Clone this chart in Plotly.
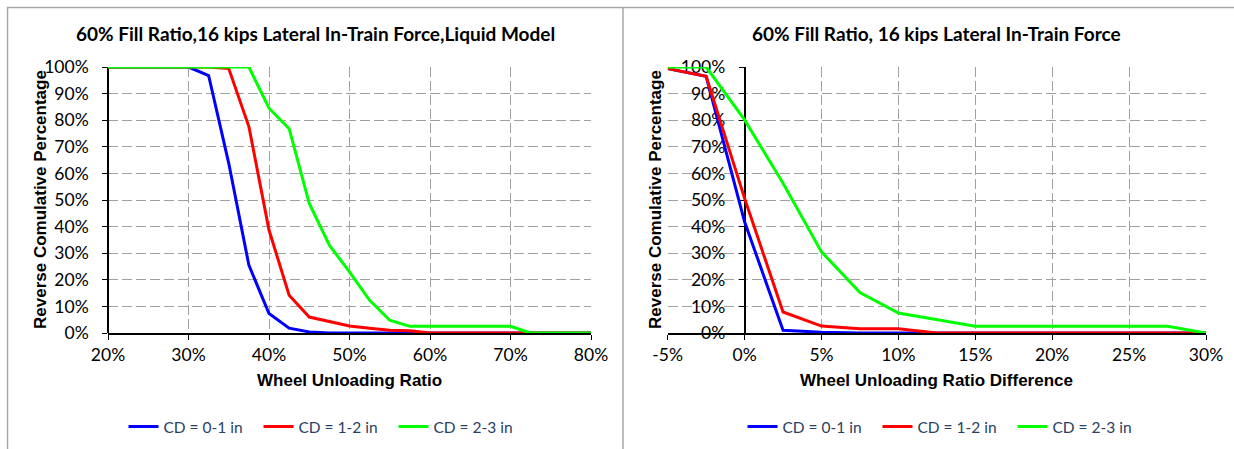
import plotly.graph_objects as go

# Wheel unloading ratio bins (%) and reverse cumulative percentage per crosslevel deviation
ratio_x = [20, 22.5, 25, 27.5, 30, 32.5, 35, 37.5, 40, 42.5, 45, 47.5, 50,
           52.5, 55, 57.5, 60, 62.5, 65, 67.5, 70, 72.5, 75, 77.5, 80]
ratio_cd01 = [100, 100, 100, 100, 100, 96.8, 63.8, 25.5, 7.3, 1.8, 0.4, 0, 0,
              0, 0, 0, 0, 0, 0, 0, 0, 0, 0, 0, 0]
ratio_cd12 = [100, 100, 100, 100, 100, 100, 99.4, 77.6, 38.7, 14.2, 6.0, 4.3, 2.6,
              1.8, 1.0, 0.8, 0, 0, 0, 0, 0, 0, 0, 0, 0]
ratio_cd23 = [100, 100, 100, 100, 100, 100, 100, 100, 84.5, 76.8, 48.7, 33.0, 23.0,
              12.3, 4.8, 2.5, 2.5, 2.5, 2.5, 2.5, 2.5, 0, 0, 0, 0]

# Wheel unloading ratio difference bins (%)
diff_x = [-5, -2.5, 0, 2.5, 5, 7.5, 10, 12.5, 15, 17.5, 20, 22.5, 25, 27.5, 30]
diff_cd01 = [99.4, 96.5, 41.8, 1.0, 0.3, 0, 0, 0, 0, 0, 0, 0, 0, 0, 0]
diff_cd12 = [99.4, 96.5, 50.6, 7.9, 2.6, 1.6, 1.6, 0, 0, 0, 0, 0, 0, 0, 0]
diff_cd23 = [100, 100, 80.1, 56.3, 30.5, 15.2, 7.5, 5.0, 2.5, 2.5, 2.5, 2.5, 2.5, 2.5, 0]

series_names = ["CD = 0-1 in", "CD = 1-2 in", "CD = 2-3 in"]
series_colors = ["#0000FF", "#FF0000", "#00FF00"]

y_ticks = [0, 10, 20, 30, 40, 50, 60, 70, 80, 90, 100]
y_ticktext = ["0%", "10%", "20%", "30%", "40%", "50%", "60%", "70%", "80%", "90%", "100%"]
ratio_ticks = [20, 30, 40, 50, 60, 70, 80]
ratio_ticktext = ["20%", "30%", "40%", "50%", "60%", "70%", "80%"]
diff_ticks = [-5, 0, 5, 10, 15, 20, 25, 30]
diff_ticktext = ["-5%", "0%", "5%", "10%", "15%", "20%", "25%", "30%"]

W, H = 1234, 449
TICK_FONT = dict(family="Lato, Carlito, sans-serif", size=17.5, color="#000000")
GRID = dict(showgrid=True, gridcolor="#a0a0a0", gridwidth=1.3, griddash="10px,4px",
            zeroline=False)

fig = go.Figure()

left_sets = [ratio_cd01, ratio_cd12, ratio_cd23]
right_sets = [diff_cd01, diff_cd12, diff_cd23]
for name, color, ys in zip(series_names, series_colors, left_sets):
    fig.add_trace(go.Scatter(x=ratio_x, y=ys, mode="lines", name=name,
                             line=dict(color=color, width=3),
                             xaxis="x", yaxis="y", legend="legend"))
for name, color, ys in zip(series_names, series_colors, right_sets):
    fig.add_trace(go.Scatter(x=diff_x, y=ys, mode="lines", name=name,
                             line=dict(color=color, width=3),
                             xaxis="x2", yaxis="y2", legend="legend2"))

# plot-area geometry in pixels
L_x0, L_x1 = 108, 591
R_x0, R_x1 = 667.7, 1206
P_y0, P_y1 = 67, 333
dom_y = [1 - P_y1 / H, 1 - P_y0 / H]
zero_pos = (R_x0 + (R_x1 - R_x0) * 5 / 35) / W

axis_common = dict(ticks="outside", ticklen=5, tickwidth=1.3, tickcolor="#000000",
                   showline=True, linewidth=1.6, linecolor="#000000",
                   tickfont=TICK_FONT, automargin=False)

fig.update_layout(
    width=W, height=H,
    margin=dict(l=0, r=0, t=0, b=0, autoexpand=False),
    paper_bgcolor="white", plot_bgcolor="white",
    showlegend=True,
    xaxis=dict(domain=[L_x0 / W, L_x1 / W], range=[20, 80], anchor="y",
               tickvals=ratio_ticks, ticktext=ratio_ticktext,
               **axis_common, **GRID),
    yaxis=dict(domain=dom_y, range=[0, 100], anchor="free", position=L_x0 / W,
               tickvals=y_ticks, ticktext=y_ticktext, ticklabelstandoff=10,
               layer="below traces",
               **axis_common, **GRID),
    xaxis2=dict(domain=[R_x0 / W, R_x1 / W], range=[-5, 30], anchor="y2",
                tickvals=diff_ticks, ticktext=diff_ticktext,
                **axis_common, **GRID),
    yaxis2=dict(domain=dom_y, range=[0, 100], anchor="free", position=zero_pos,
                tickvals=y_ticks, ticktext=y_ticktext, ticklabelstandoff=10,
                layer="below traces",
                **axis_common, **GRID),
    legend=dict(orientation="h", x=326 / W, y=1 - 427 / H, xanchor="center",
                yanchor="middle", font=dict(family="Lato, sans-serif", size=15.5),
                entrywidth=90, bgcolor="rgba(0,0,0,0)"),
    legend2=dict(orientation="h", x=945 / W, y=1 - 427 / H, xanchor="center",
                 yanchor="middle", font=dict(family="Lato, sans-serif", size=15.5),
                 entrywidth=90, bgcolor="rgba(0,0,0,0)"),
)

# chart frames
frame = dict(type="line", xref="paper", yref="paper",
             line=dict(color="#a8a8a8", width=1.5))
fig.add_shape(x0=7 / W, x1=1, y0=1 - 7.5 / H, y1=1 - 7.5 / H, **frame)
fig.add_shape(x0=7.5 / W, x1=7.5 / W, y0=0, y1=1 - 7 / H, **frame)
fig.add_shape(x0=623 / W, x1=623 / W, y0=0, y1=1 - 7 / H, **frame)

title_font = dict(family="Lato, sans-serif", size=19, color="#000000")
axis_title_font = dict(family="Liberation Sans, Arial, sans-serif", size=17, color="#000000")

texts = [
    ("<b>60% Fill Ratio,16 kips Lateral In-Train Force,Liquid Model</b>", 315, 33, 0, title_font),
    ("<b>60% Fill Ratio, 16 kips Lateral In-Train Force</b>", 936, 33, 0, title_font),
    ("<b>Wheel Unloading Ratio</b>", (L_x0 + L_x1) / 2, 380, 0, axis_title_font),
    ("<b>Wheel Unloading Ratio Difference</b>", (R_x0 + R_x1) / 2, 380, 0, axis_title_font),
    ("<b>Reverse Comulative Percentage</b>", 40, 200, -90, axis_title_font),
    ("<b>Reverse Comulative Percentage</b>", 655, 200, -90, axis_title_font),
]
for txt, px, py, ang, fnt in texts:
    fig.add_annotation(text=txt, x=px / W, y=1 - py / H, xref="paper", yref="paper",
                       xanchor="center", yanchor="middle", showarrow=False,
                       textangle=ang, font=fnt)

fig.write_html("out.html")
